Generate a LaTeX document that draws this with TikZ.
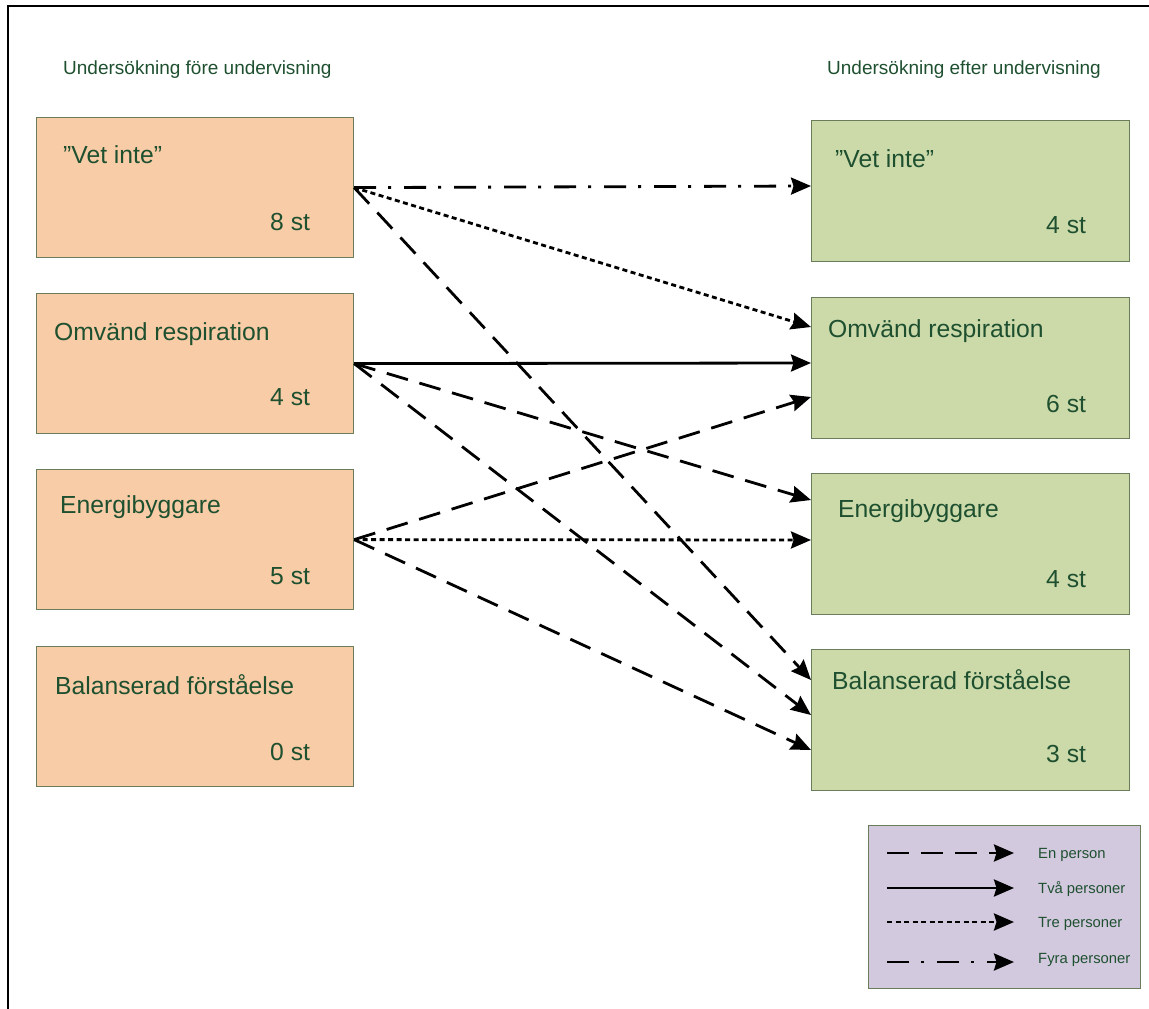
\documentclass[tikz,border=0pt]{standalone}
\usepackage{fontspec}
\setmainfont{Liberation Sans}
\usetikzlibrary{arrows.meta}
\definecolor{txtgreen}{RGB}{30,80,48}
\definecolor{orangefill}{RGB}{248,204,166}
\definecolor{greenfill}{RGB}{204,218,170}
\definecolor{legfill}{RGB}{211,201,223}
\definecolor{boxborder}{RGB}{105,125,90}
\tikzset{
  lbox/.style={draw=boxborder, line width=1.2pt, fill=orangefill, anchor=north west, inner sep=0pt, minimum width=317pt, minimum height=140pt},
  rbox/.style={draw=boxborder, line width=1.2pt, fill=greenfill, anchor=north west, inner sep=0pt, minimum width=318pt, minimum height=141pt},
  legbox/.style={draw=boxborder, line width=1.2pt, fill=legfill, anchor=north west, inner sep=0pt, minimum width=272pt, minimum height=163pt},
  title/.style={anchor=base west, inner sep=0pt, text=txtgreen, font=\fontsize{19}{21}\selectfont},
  lbl/.style={anchor=base west, inner sep=0pt, text=txtgreen, font=\fontsize{24.7}{27}\selectfont},
  legtxt/.style={anchor=base west, inner sep=0pt, text=txtgreen, font=\fontsize{14.8}{16}\selectfont},
  conn/.style={line width=2.8pt, -{Stealth[length=20pt,width=17pt,inset=2.5pt]}},
  one/.style={conn, dash pattern=on 22pt off 12pt},
  two/.style={conn},
  three/.style={conn, dash pattern=on 5pt off 3.5pt},
  four/.style={conn, dash pattern=on 22pt off 12pt on 3pt off 13pt},
}
\begin{document}
\begin{tikzpicture}[x=1pt,y=-1pt]
\useasboundingbox (0,0) rectangle (1149,1009);
% frame (top and left edges visible)
\draw[line width=2pt] (8,1009) -- (8,6) -- (1149,6);
% titles
\node[title] (tl) at (63,74) {Undersökning före undervisning};
\node[title] (tr) at (827,74) {Undersökning efter undervisning};
% left boxes
\node[lbox] (l1) at (36,117) {};
\node[lbox] (l2) at (36,293) {};
\node[lbox] (l3) at (36,469) {};
\node[lbox] (l4) at (36,646) {};
\node[lbl] (l1a) at (63,163) {”Vet inte”};
\node[lbl] (l1b) at (270,230) {8 st};
\node[lbl] (l2a) at (54,340) {Omvänd respiration};
\node[lbl] (l2b) at (270,405) {4 st};
\node[lbl] (l3a) at (60,513) {Energibyggare};
\node[lbl] (l3b) at (270,584) {5 st};
\node[lbl] (l4a) at (55,694) {Balanserad förståelse};
\node[lbl] (l4b) at (270,760) {0 st};
% right boxes
\node[rbox] (r1) at (811,120) {};
\node[rbox] (r2) at (811,297) {};
\node[rbox] (r3) at (811,473) {};
\node[rbox] (r4) at (811,649) {};
\node[lbl] (r1a) at (835,167) {”Vet inte”};
\node[lbl] (r1b) at (1046,233) {4 st};
\node[lbl] (r2a) at (828,337) {Omvänd respiration};
\node[lbl] (r2b) at (1046,412) {6 st};
\node[lbl] (r3a) at (838,517) {Energibyggare};
\node[lbl] (r3b) at (1046,587) {4 st};
\node[lbl] (r4a) at (832,689) {Balanserad förståelse};
\node[lbl] (r4b) at (1046,762) {3 st};
% connector end points on the right boxes
\coordinate (e1) at (811,186);
\coordinate (e2a) at (811,327);
\coordinate (e2b) at (811,363);
\coordinate (e2c) at (811,397);
\coordinate (e3a) at (811,500);
\coordinate (e3b) at (811,540);
\coordinate (e4a) at (811,680);
\coordinate (e4b) at (811,715);
\coordinate (e4c) at (811,750);
% connectors
\draw[four] (l1.east) -- (e1);
\draw[three] (l1.east) -- (e2a);
\draw[one] (l1.east) -- (e4a);
\draw[two] (l2.east) -- (e2b);
\draw[one] (l2.east) -- (e3a);
\draw[one] (l2.east) -- (e4b);
\draw[one] (l3.east) -- (e2c);
\draw[three] (l3.east) -- (e3b);
\draw[one] (l3.east) -- (e4c);
% legend
\node[legbox] (leg) at (868,825) {};
\coordinate (g1s) at (887,853); \coordinate (g1e) at (1014,853);
\coordinate (g2s) at (887,888); \coordinate (g2e) at (1014,888);
\coordinate (g3s) at (887,922); \coordinate (g3e) at (1014,922);
\coordinate (g4s) at (887,962); \coordinate (g4e) at (1014,962);
\draw[one] (g1s) -- (g1e);
\draw[two] (g2s) -- (g2e);
\draw[three] (g3s) -- (g3e);
\draw[four] (g4s) -- (g4e);
\node[legtxt] (t1) at (1038,858) {En person};
\node[legtxt] (t2) at (1038,893) {Två personer};
\node[legtxt] (t3) at (1038,927) {Tre personer};
\node[legtxt] (t4) at (1038,963) {Fyra personer};
\end{tikzpicture}
\end{document}
